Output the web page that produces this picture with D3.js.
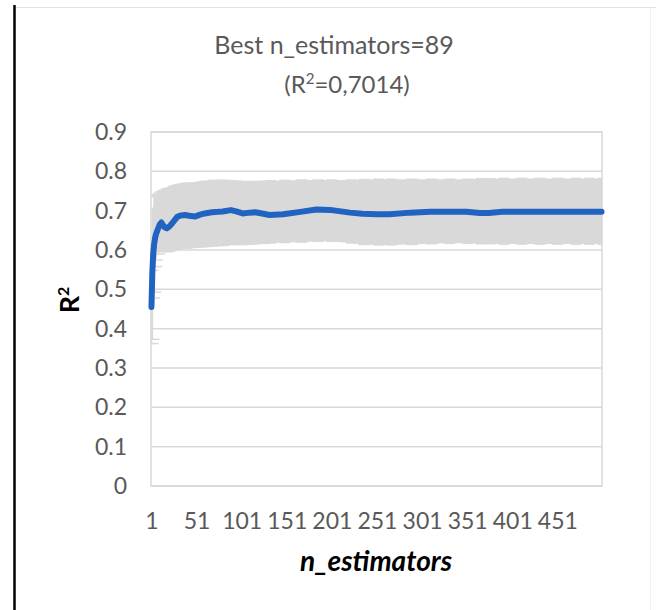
<!DOCTYPE html>
<html>
<head>
<meta charset="utf-8">
<script src="https://cdn.jsdelivr.net/npm/d3@7"></script>
<style>
  body { margin: 0; background: #fff; }
  svg { display: block; font-family: Lato, "Open Sans", sans-serif; }
</style>
</head>
<body>
<svg id="chart" width="656" height="610"></svg>
<script>
// Cross-validated R² per n_estimators (mean and band)
const nEst  = [1, 2, 3, 4, 5, 6, 8, 10, 12, 14, 16, 18, 21, 24, 27, 30, 34, 38, 43, 49, 55, 60, 68, 75, 80, 89, 95, 102, 110, 116, 125, 132, 147, 166, 184, 199, 221, 235, 251, 265, 288, 310, 330, 350, 365, 375, 390, 410, 430, 450, 470, 485, 500];
const r2    = [.455, .545, .592, .615, .630, .640, .652, .664, .670, .662, .657, .655, .660, .668, .677, .685, .688, .689, .687, .685, .690, .693, .696, .697, .698, .7014, .698, .693, .695, .696, .692, .689, .691, .697, .703, .702, .695, .692, .691, .691, .695, .697, .697, .697, .694, .694, .697, .697, .697, .697, .697, .697, .697];
const r2Low = [.362, .373, .478, .493, .558, .575, .590, .596, .598, .597, .596, .596, .598, .601, .603, .604, .605, .605, .606, .607, .608, .609, .610, .611, .612, .614, .614, .614, .615, .616, .617, .618, .619, .620, .622, .622, .618, .614, .613, .613, .614, .616, .617, .617, .616, .616, .615, .615, .615, .615, .615, .615, .615];
const r2High= [.548, .700, .706, .735, .738, .742, .745, .748, .750, .752, .755, .756, .758, .762, .764, .766, .768, .770, .770, .771, .773, .775, .777, .777, .777, .776, .775, .774, .774, .774, .775, .776, .777, .778, .778, .778, .778, .779, .780, .780, .780, .780, .780, .780, .781, .781, .782, .782, .782, .782, .782, .782, .782];
const xTicks = [1, 51, 101, 151, 201, 251, 301, 351, 401, 451];
const yTicks = [0, 0.1, 0.2, 0.3, 0.4, 0.5, 0.6, 0.7, 0.8, 0.9];

const data = nEst.map((n, i) => ({ n, r2: r2[i], lo: r2Low[i], hi: r2High[i] }));

const svg = d3.select("#chart");
const plot = { left: 151, right: 602, top: 132, bottom: 486 };

// frame of the screenshot
svg.append("line").attr("x1", 15).attr("x2", 656).attr("y1", 7.5).attr("y2", 7.5)
  .attr("stroke", "#e3e3e3").attr("stroke-width", 1);
svg.append("line").attr("x1", 650.5).attr("x2", 650.5).attr("y1", 8).attr("y2", 610)
  .attr("stroke", "#f0f0f0").attr("stroke-width", 1);
svg.append("line").attr("x1", 14.5).attr("x2", 14.5).attr("y1", 5).attr("y2", 610)
  .attr("stroke", "#000").attr("stroke-width", 2.5);

// scales
const x = d3.scaleLinear().domain([0.5, 500.5]).range([plot.left, plot.right]);
const y = d3.scaleLinear().domain([0, 0.9]).range([plot.bottom, plot.top]);

// gridlines
svg.append("g").selectAll("line")
  .data(yTicks)
  .join("line")
  .attr("x1", plot.left).attr("x2", plot.right)
  .attr("y1", d => y(d)).attr("y2", d => y(d))
  .attr("stroke", "#d9d9d9").attr("stroke-width", 1.5);

svg.append("rect")
  .attr("x", plot.left).attr("y", plot.top)
  .attr("width", plot.right - plot.left).attr("height", plot.bottom - plot.top)
  .attr("fill", "none").attr("stroke", "#d9d9d9").attr("stroke-width", 1.5);

// error band
const band = d3.area()
  .x(d => x(d.n))
  .y0(d => y(d.lo))
  .y1(d => y(d.hi));
svg.append("path").datum(data.slice(2))
  .attr("d", band)
  .attr("fill", "#d9d9d9");

// error bars with caps (kept inside the plot area)
const capL = d => Math.max(x(d.n) - 4, plot.left);
const capR = d => Math.min(x(d.n) + 7, plot.right);
const eb = svg.append("g").attr("stroke", "#d9d9d9").attr("stroke-width", 1.5);
eb.selectAll("line.bar").data(data).join("line").attr("class", "bar")
  .attr("x1", d => x(d.n)).attr("x2", d => x(d.n))
  .attr("y1", d => y(d.lo)).attr("y2", d => y(d.hi));
eb.selectAll("line.capLo").data(data).join("line").attr("class", "capLo")
  .attr("x1", capL).attr("x2", capR)
  .attr("y1", d => y(d.lo)).attr("y2", d => y(d.lo));
eb.selectAll("line.capHi").data(data).join("line").attr("class", "capHi")
  .attr("x1", capL).attr("x2", capR)
  .attr("y1", d => y(d.hi)).attr("y2", d => y(d.hi));

// mean R² line
svg.append("path").datum(data)
  .attr("d", d3.line().x(d => x(d.n)).y(d => y(d.r2)))
  .attr("fill", "none")
  .attr("stroke", "#2163c1")
  .attr("stroke-width", 6)
  .attr("stroke-linejoin", "round")
  .attr("stroke-linecap", "round");

// axes
const yAxis = svg.append("g")
  .attr("transform", `translate(${plot.left},0)`)
  .call(d3.axisLeft(y).tickValues(yTicks).tickSize(0).tickPadding(24)
    .tickFormat(d => d === 0 ? "0" : d.toFixed(1)));
const xAxis = svg.append("g")
  .attr("transform", `translate(0,${plot.bottom})`)
  .call(d3.axisBottom(x).tickValues(xTicks).tickSize(0).tickPadding(27));
[xAxis, yAxis].forEach(a => {
  a.select(".domain").remove();
  a.selectAll("text").attr("font-family", "Lato, sans-serif")
    .attr("font-size", 23).attr("fill", "#595959");
});

// title
const title = svg.append("text")
  .attr("text-anchor", "middle")
  .attr("font-size", 24).attr("fill", "#595959");
title.append("tspan").attr("x", 334).attr("y", 54).attr("font-size", 25).text("Best n_estimators=89");
const t2 = title.append("tspan").attr("x", 347).attr("y", 93);
t2.append("tspan").text("(R");
t2.append("tspan").attr("font-size", 15).attr("dy", -9).text("2");
t2.append("tspan").attr("dy", 9).text("=0,7014)");

// axis titles
const yt = svg.append("text")
  .attr("transform", "translate(79,300) rotate(-90)")
  .attr("text-anchor", "middle")
  .attr("font-size", 27).attr("font-weight", "bold").attr("fill", "#000");
yt.append("tspan").text("R");
yt.append("tspan").attr("font-size", 16).attr("dy", -10).text("2");

svg.append("text")
  .attr("x", 376).attr("y", 571)
  .attr("text-anchor", "middle")
  .attr("font-size", 28).attr("font-weight", "bold").attr("font-style", "italic")
  .attr("fill", "#000")
  .text("n_estimators");
</script>
</body>
</html>
